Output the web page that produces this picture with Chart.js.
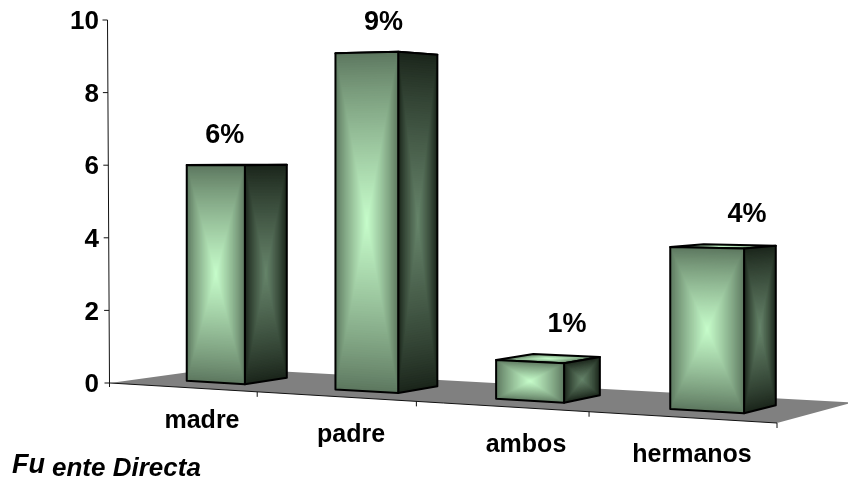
<!DOCTYPE html>
<html lang="es">
<head>
  <meta charset="UTF-8">
  <title>Fuente Directa</title>
  <script src="https://cdn.jsdelivr.net/npm/chart.js"></script>
  <style>
    html, body { margin: 0; padding: 0; background: #fff; }
    canvas { display: block; }
  </style>
</head>
<body>
  <canvas id="chart" width="848" height="481"></canvas>

  <script>
    const categories = ['madre', 'padre', 'ambos', 'hermanos'];
    const values = [6, 9, 1, 4];
    const yTicks = [0, 2, 4, 6, 8, 10];

    // floor outline on screen: front-left, front-right, back-right, back-left
    const floorQuad = [[110, 383], [777, 423], [853, 402.5], [219, 368]];
    const barWidth = 0.4;       // share of a category
    const barFront = 0.3;       // depth of the front face on the floor
    const barBack = 0.7;
    const labelShift = [-12, -3, 19, 24];
    const catLabelAt = [[202, 428], [351, 442], [526, 452], [692, 462]];

    // unit square -> floor quad (perspective), w is 1 at the front-left corner
    function makeFloor(q) {
      const [[x0, y0], [x1, y1], [x2, y2], [x3, y3]] = q;
      const dx1 = x1 - x2, dx2 = x3 - x2, sx = x0 - x1 + x2 - x3;
      const dy1 = y1 - y2, dy2 = y3 - y2, sy = y0 - y1 + y2 - y3;
      const den = dx1 * dy2 - dx2 * dy1;
      const g = (sx * dy2 - dx2 * sy) / den;
      const h = (dx1 * sy - sx * dy1) / den;
      const a = x1 - x0 + g * x1, b = x3 - x0 + h * x3;
      const d = y1 - y0 + g * y1, e = y3 - y0 + h * y3;
      return (u, v) => {
        const w = g * u + h * v + 1;
        return { x: (a * u + b * v + x0) / w, y: (d * u + e * v + y0) / w, w };
      };
    }
    const floorAt = makeFloor(floorQuad);

    function tracePoly(ctx, pts) {
      ctx.beginPath();
      pts.forEach((p, i) => (i ? ctx.lineTo(p[0], p[1]) : ctx.moveTo(p[0], p[1])));
      ctx.closePath();
    }

    function mix(a, b, t) {
      const c = a.map((v, i) => Math.round(v + (b[i] - v) * t));
      return `rgb(${c[0]},${c[1]},${c[2]})`;
    }

    // rectangular gradient: nested copies of the face shrinking to its centre
    function boxGradient(ctx, pts, edge, centre) {
      const cx = pts.reduce((s, p) => s + p[0], 0) / 4;
      const cy = pts.reduce((s, p) => s + p[1], 0) / 4;
      const steps = 70;
      for (let i = 0; i < steps; i++) {
        const k = 1 - i / steps;
        tracePoly(ctx, pts.map(p => [cx + (p[0] - cx) * k, cy + (p[1] - cy) * k]));
        ctx.fillStyle = mix(edge, centre, Math.pow(i / (steps - 1), 0.85));
        ctx.fill();
      }
      tracePoly(ctx, pts);
      ctx.lineWidth = 2;
      ctx.lineJoin = 'round';
      ctx.strokeStyle = '#000';
      ctx.stroke();
    }

    const FRONT = [[92, 118, 94], [198, 252, 202]];
    const SIDE = [[26, 36, 26], [102, 132, 106]];

    const scene3d = {
      id: 'scene3d',
      beforeDatasetsDraw(chart) {
        const { ctx, scales: { x, y } } = chart;
        const toU = px => (px - x.left) / (x.right - x.left);
        const unitY = v => y.getPixelForValue(0) - y.getPixelForValue(v);

        // left axis, leaning slightly like the rest of the scene
        const axisX = v => 109.5 - 2 * v / 10;
        ctx.strokeStyle = '#111';
        ctx.lineWidth = 1;
        ctx.beginPath();
        ctx.moveTo(axisX(-0.1), y.getPixelForValue(0) + 4);
        ctx.lineTo(axisX(10), y.getPixelForValue(10));
        yTicks.forEach(t => {
          ctx.moveTo(axisX(t) - 5, y.getPixelForValue(t));
          ctx.lineTo(axisX(t), y.getPixelForValue(t));
        });
        ctx.stroke();

        // floor
        tracePoly(ctx, floorQuad);
        ctx.fillStyle = '#808080';
        ctx.fill();
        ctx.strokeStyle = '#111';
        ctx.lineWidth = 1;
        ctx.beginPath();
        ctx.moveTo(floorQuad[0][0], floorQuad[0][1]);
        ctx.lineTo(floorQuad[1][0], floorQuad[1][1]);
        categories.forEach((c, i) => {
          const p = floorAt((i + 1) / categories.length, 0);
          ctx.moveTo(p.x, p.y);
          ctx.lineTo(p.x, p.y + 5);
        });
        ctx.stroke();

        // bars
        const half = barWidth / categories.length / 2;
        categories.forEach((c, i) => {
          const u = toU(x.getPixelForValue(i));
          const h = unitY(values[i]);
          const corner = (a, b) => {
            const p = floorAt(a, b);
            return { base: [p.x, p.y], top: [p.x, p.y - h / p.w] };
          };
          const fl = corner(u - half, barFront), fr = corner(u + half, barFront);
          const bl = corner(u - half, barBack), br = corner(u + half, barBack);
          boxGradient(ctx, [bl.top, br.top, fr.top, fl.top], FRONT[0], FRONT[1]);
          boxGradient(ctx, [fr.top, br.top, br.base, fr.base], SIDE[0], SIDE[1]);
          boxGradient(ctx, [fl.top, fr.top, fr.base, fl.base], FRONT[0], FRONT[1]);

          // value label above the box
          const topY = Math.min(fl.top[1], fr.top[1], bl.top[1], br.top[1]);
          const midX = (fl.top[0] + br.top[0]) / 2;
          ctx.fillStyle = '#000';
          ctx.font = 'bold 27px "Liberation Sans", Arial, sans-serif';
          ctx.textAlign = 'center';
          ctx.textBaseline = 'alphabetic';
          ctx.fillText(values[i] + '%', midX + labelShift[i], topY - 22);

          ctx.font = 'bold 25px "Liberation Sans", Arial, sans-serif';
          ctx.fillText(c, catLabelAt[i][0], catLabelAt[i][1]);
        });

        // source note
        ctx.textAlign = 'left';
        ctx.font = 'italic bold 27px "Liberation Sans", Arial, sans-serif';
        ctx.fillText('Fu', 12, 473);
        ctx.font = 'italic bold 26px "Liberation Sans", Arial, sans-serif';
        ctx.fillText('ente Directa', 52, 476);
      }
    };

    new Chart(document.getElementById('chart'), {
      type: 'bar',
      data: {
        labels: categories,
        datasets: [{ data: values, backgroundColor: 'transparent' }]
      },
      options: {
        responsive: false,
        animation: false,
        layout: { padding: { top: 20, bottom: 98 } },
        plugins: { legend: { display: false }, tooltip: { enabled: false } },
        scales: {
          x: { display: false },
          y: {
            min: 0,
            max: 10,
            afterFit: scale => { scale.width = 107; },
            afterBuildTicks: scale => { scale.ticks = yTicks.map(value => ({ value })); },
            border: { display: false },
            grid: { display: false },
            ticks: {
              color: '#000',
              padding: 0,
              labelOffset: 2,
              font: { family: '"Liberation Sans", Arial, sans-serif', size: 26, weight: 'bold' }
            }
          }
        }
      },
      plugins: [scene3d]
    });
  </script>
</body>
</html>
